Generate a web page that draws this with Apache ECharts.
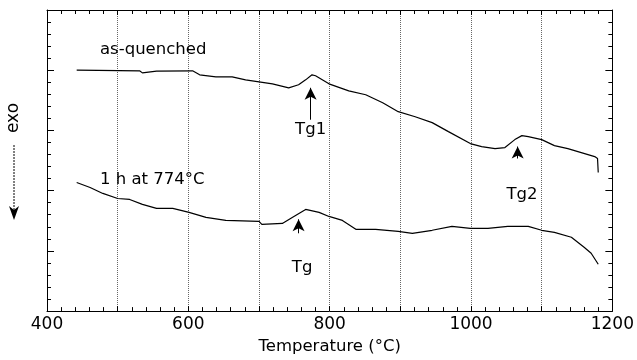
<!DOCTYPE html>
<html>
<head>
<meta charset="utf-8">
<script src="https://cdn.jsdelivr.net/npm/echarts@6/dist/echarts.min.js"></script>
<style>
  html, body { margin: 0; padding: 0; background: #fff; }
  #main { width: 637px; height: 360px; }
</style>
</head>
<body>
<div id="main"></div>
<script>
// DSC 曲线数据，温度(°C) 与 热流(任意单位)
var tempQuenched = [442, 531, 535, 555, 606, 616, 639, 662, 681, 700, 719, 742, 756, 766, 775, 780, 799, 827, 851, 875, 897, 921, 945, 968, 999, 1015, 1034, 1048, 1062, 1072, 1081, 1100, 1118, 1137, 1156, 1175, 1179, 1180]
var flowQuenched = [20.0, 19.95, 19.78, 19.93, 19.95, 19.62, 19.45, 19.45, 19.2, 19.04, 18.87, 18.54, 18.79, 19.2, 19.62, 19.54, 18.87, 18.29, 17.96, 17.3, 16.56, 16.14, 15.65, 14.9, 13.91, 13.66, 13.49, 13.58, 14.24, 14.57, 14.49, 14.24, 13.74, 13.49, 13.16, 12.83, 12.67, 11.51]

var tempAnnealed = [442, 461, 479, 500, 517, 535, 555, 578, 601, 625, 653, 700, 704, 733, 747, 766, 785, 799, 818, 837, 865, 897, 917, 945, 973, 999, 1024, 1052, 1081, 1100, 1118, 1142, 1160, 1170, 1180]
var flowAnnealed = [10.68, 10.26, 9.77, 9.35, 9.27, 8.86, 8.53, 8.53, 8.2, 7.78, 7.53, 7.45, 7.2, 7.28, 7.78, 8.44, 8.2, 7.86, 7.53, 6.79, 6.79, 6.62, 6.46, 6.71, 7.04, 6.87, 6.87, 7.04, 7.04, 6.71, 6.54, 6.13, 5.3, 4.8, 3.89]

var xTicks = [400, 600, 800, 1000, 1200]

// 标注文字: [温度, 值, 文字, 对齐]
var notes = [
  [475, 21.7, 'as-quenched', 'left'],
  [475, 10.93, '1 h at 774°C', 'left'],
  [773, 15.07, 'Tg1', 'center'],
  [1072, 9.69, 'Tg2', 'center'],
  [761, 3.64, 'Tg', 'center']
]
// 箭头: [起点温度, 起点值, 终点温度, 终点值]
var arrows = [
  [773, 15.89, 773, 18.54],
  [1066, 12.67, 1066, 13.66],
  [756, 6.46, 756, 7.62]
]

function pairs(xs, ys) {
  var out = []
  for (var i = 0; i < xs.length; i++) out.push([xs[i], ys[i]])
  return out
}

var myChart = echarts.init(document.getElementById('main'))
var font = 'DejaVu Sans'

function xAx(pos, label) {
  return {
    type: 'value', position: pos, min: 400, max: 1200, interval: 100,
    axisLine: { show: true, onZero: false, lineStyle: { color: '#000', width: 1 } },
    axisTick: { show: true, inside: true, length: 5, lineStyle: { color: '#000' } },
    minorTick: { show: true, splitNumber: 5, length: 4, lineStyle: { color: '#000' } },
    splitLine: { show: label, lineStyle: { type: 'dotted', color: '#666', width: 1 } },
    axisLabel: {
      show: label, margin: 5, color: '#000', fontFamily: font, fontSize: 17,
      formatter: function (v) { return xTicks.indexOf(v) >= 0 ? String(v) : '' }
    },
    name: label ? 'Temperature (°C)' : '', nameLocation: 'middle', nameGap: 26,
    nameTextStyle: { color: '#000', fontFamily: font, fontSize: 16.5 }
  }
}
function yAx(pos) {
  return {
    type: 'value', position: pos, min: 0, max: 25, interval: 5,
    axisLine: { show: true, onZero: false, lineStyle: { color: '#000', width: 1 } },
    axisTick: { show: true, inside: true, length: 7, lineStyle: { color: '#000' } },
    minorTick: { show: true, splitNumber: 5, length: 4, lineStyle: { color: '#000' } },
    splitLine: { show: false },
    axisLabel: { show: false }
  }
}

var noteData = notes.map(function (n) {
  return {
    coord: [n[0], n[1]], value: n[2],
    label: {
      show: true, position: 'inside', align: n[3], verticalAlign: 'middle',
      color: '#000', fontFamily: font, fontSize: 16.5, formatter: n[2]
    }
  }
})
var arrowData = arrows.map(function (a) {
  return [{ coord: [a[0], a[1]] }, { coord: [a[2], a[3]] }]
})

var option = {
  animation: false,
  grid: { left: 47, right: 22, top: 10, bottom: 48 },
  xAxis: [xAx('bottom', true), xAx('top', false)],
  yAxis: [yAx('left'), yAx('right')],
  series: [
    {
      name: 'as-quenched', type: 'line', data: pairs(tempQuenched, flowQuenched),
      showSymbol: false, lineStyle: { color: '#000', width: 1.2 }, itemStyle: { color: '#000' },
      markPoint: {
        symbol: 'circle', symbolSize: 0,
        label: { show: true, color: '#000', fontFamily: font, fontSize: 16.5 },
        data: noteData
      },
      markLine: {
        silent: true, symbol: ['none', 'arrow'], symbolSize: [9, 12],
        label: { show: false },
        lineStyle: { color: '#000', type: 'solid', width: 1 },
        data: arrowData
      }
    },
    {
      name: '1 h at 774°C', type: 'line', data: pairs(tempAnnealed, flowAnnealed),
      showSymbol: false, lineStyle: { color: '#000', width: 1.2 }, itemStyle: { color: '#000' }
    }
  ],
  graphic: [
    {
      type: 'text', x: 14, y: 118, rotation: Math.PI / 2,
      style: { text: 'exo', fill: '#000', font: '17px "DejaVu Sans"', align: 'center', verticalAlign: 'middle' }
    },
    {
      type: 'line', shape: { x1: 14, y1: 145, x2: 14, y2: 214 },
      style: { stroke: '#000', lineWidth: 1, lineDash: [2, 1] }
    },
    {
      type: 'polygon', shape: { points: [[9, 206], [14, 220], [19, 206], [14, 210]] },
      style: { fill: '#000' }
    }
  ]
}

myChart.setOption(option)
</script>
</body>
</html>
